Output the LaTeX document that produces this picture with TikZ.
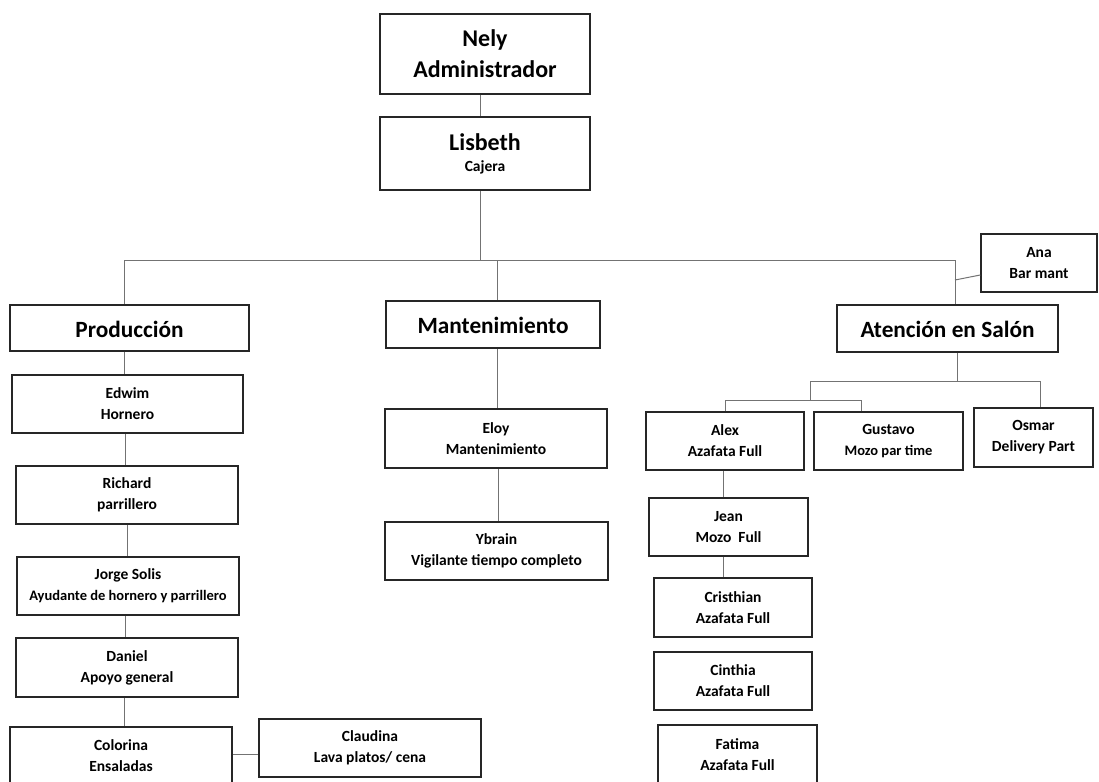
\documentclass[tikz,border=0pt]{standalone}
\usepackage{fontspec}
\setmainfont{Carlito}
\begin{document}
\begin{tikzpicture}[x=1pt,y=-1pt,
  box/.style={draw=black!85, line width=1.5pt, inner sep=0pt, align=center,
    font=\bfseries\fontsize{15.5}{21}\selectfont},
  dept/.style={box, line width=1.7pt, text height=23pt, text depth=5pt,
    font=\bfseries\fontsize{23.3}{28}\selectfont},
  conn/.style={draw=black!55, line width=1pt},
  big/.style={font=\bfseries\fontsize{24}{31}\selectfont}]
\useasboundingbox (0,0) rectangle (1099,781);
\clip (0,0) rectangle (1099,781);
\fill[white] (0,0) rectangle (1099,781);

% top of the chart
\node[box, big, minimum width=210, minimum height=80] (nely) at (485,54) {Nely\\Administrador};
\node[box, minimum width=210, minimum height=73] (lisbeth) at (485,153.5)
  {{\fontsize{24}{31}\selectfont Lisbeth}\\Cajera};

% departments
\node[dept, minimum width=239, minimum height=46] (prod) at (129.5,328) {Producción};
\node[dept, minimum width=214, minimum height=47] (mant) at (493,324.5) {Mantenimiento};
\node[dept, minimum width=221, minimum height=47] (aten) at (947.5,328.5) {Atención en Salón};
\node[box, minimum width=116, minimum height=58] (ana) at (1039,263) {Ana\\Bar mant};

% production staff
\node[box, minimum width=231, minimum height=58] (edwim) at (127.5,404) {Edwim\\Hornero};
\node[box, minimum width=222, minimum height=58] (richard) at (127,495) {Richard\\parrillero};
\node[box, minimum width=222, minimum height=58] (jorge) at (128,586)
  {Jorge Solis\\{\fontsize{14.5}{19}\selectfont Ayudante de hornero y parrillero}};
\node[box, minimum width=222, minimum height=59] (daniel) at (127,667.5) {Daniel\\Apoyo general};
\node[box, minimum width=222, minimum height=58] (colorina) at (121,756) {Colorina\\Ensaladas};
\node[box, minimum width=222, minimum height=58] (claudina) at (370,748) {Claudina\\Lava platos/ cena};

% maintenance staff
\node[box, minimum width=222, minimum height=59] (eloy) at (496,438.5) {Eloy\\Mantenimiento};
\node[box, minimum width=223, minimum height=58] (ybrain) at (496.5,551) {Ybrain\\Vigilante tiempo completo};

% hall staff
\node[box, minimum width=158, minimum height=58] (alex) at (725,441) {Alex\\Azafata Full};
\node[box, minimum width=149, minimum height=58] (gustavo) at (888.5,441)
  {Gustavo\\{\fontsize{14.5}{21}\selectfont Mozo par time}};
\node[box, minimum width=119, minimum height=59] (osmar) at (1033.5,437.5) {Osmar\\Delivery Part};
\node[box, minimum width=159, minimum height=58] (jean) at (728.5,527) {Jean\\Mozo\ \ Full};
\node[box, minimum width=158, minimum height=59] (cristhian) at (733,607.5) {Cristhian\\Azafata Full};
\node[box, minimum width=158, minimum height=58] (cinthia) at (733,681) {Cinthia\\Azafata Full};
\node[box, minimum width=159, minimum height=60] (fatima) at (737.5,755) {Fatima\\Azafata Full};

% junction points
\coordinate (busC) at (480,260);
\coordinate (busL) at (124,260);
\coordinate (busM) at (497,260);
\coordinate (busR) at (955,260);
\coordinate (anaJ) at (955,280);
\coordinate (salT) at (957,381);
\coordinate (salL) at (810,381);
\coordinate (salR) at (1040,381);
\coordinate (subM) at (810,400);
\coordinate (subL) at (725,400);
\coordinate (subR) at (861,400);

% connectors
\draw[conn] (480,0 |- nely.south) -- (480,0 |- lisbeth.north);
\draw[conn] (busC |- lisbeth.south) -- (busC);
\draw[conn] (busL |- prod.north) -- (busL) -- (busR) -- (busR |- aten.north);
\draw[conn] (busM) -- (busM |- mant.north);
\draw[conn] (anaJ) -- (ana.west |- 0,275);

\draw[conn] (salT |- aten.south) -- (salT);
\draw[conn] (salL) -- (salR) -- (salR |- osmar.north);
\draw[conn] (salL) -- (subM);
\draw[conn] (subL |- alex.north) -- (subL) -- (subR) -- (subR |- gustavo.north);
\draw[conn] (723,0 |- alex.south) -- (723,0 |- jean.north);
\draw[conn] (723,0 |- jean.south) -- (723,0 |- cristhian.north);

\draw[conn] (124,0 |- prod.south) -- (124,0 |- edwim.north);
\draw[conn] (125,0 |- edwim.south) -- (125,0 |- richard.north);
\draw[conn] (127,0 |- richard.south) -- (127,0 |- jorge.north);
\draw[conn] (125,0 |- jorge.south) -- (125,0 |- daniel.north);
\draw[conn] (124,0 |- daniel.south) -- (124,0 |- colorina.north);
\draw[conn] (colorina.east |- 0,754) -- (claudina.west |- 0,754);

\draw[conn] (497,0 |- mant.south) -- (497,0 |- eloy.north);
\draw[conn] (498,0 |- eloy.south) -- (498,0 |- ybrain.north);
\end{tikzpicture}
\end{document}
